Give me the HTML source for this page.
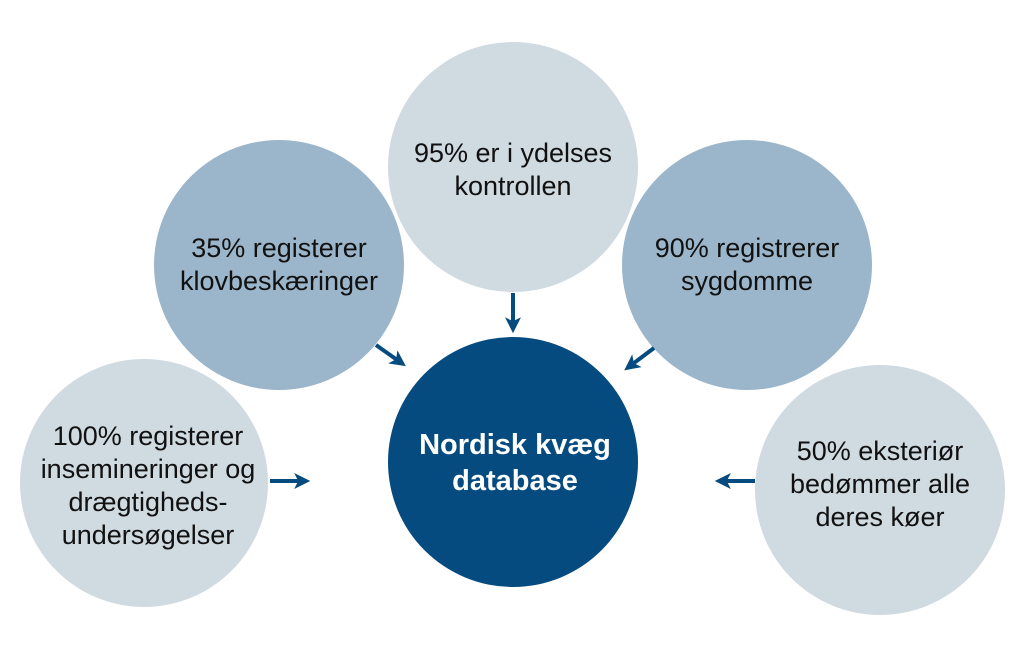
<!DOCTYPE html>
<html><head><style>
html,body{margin:0;padding:0;background:#fff;}
body{width:1024px;height:652px;overflow:hidden;}
text{font-family:"Liberation Sans",Arial,sans-serif;font-size:27px;fill:#111;text-anchor:middle;}
</style></head><body>
<svg width="1024" height="652" viewBox="0 0 1024 652">
<defs><marker id="a" markerWidth="4" markerHeight="4" refX="2.2" refY="2" orient="auto" markerUnits="strokeWidth"><path d="M0,0 L4,2 L0,4 L1,2 Z" fill="#064b80"/></marker></defs>
<circle cx="513" cy="167" r="125" fill="#cfdae1"/>
<circle cx="279" cy="265" r="125" fill="#9bb6ca"/>
<circle cx="747" cy="265" r="125" fill="#9bb6ca"/>
<circle cx="144" cy="483" r="124" fill="#cfdae1"/>
<circle cx="880" cy="490" r="125" fill="#cfdae1"/>
<circle cx="513" cy="462" r="125" fill="#064b80"/>
<g stroke="#064b80" stroke-width="4" fill="none" marker-end="url(#a)">
<line x1="513" y1="293" x2="513" y2="326"/>
<line x1="376" y1="345" x2="400" y2="362"/>
<line x1="654" y1="348" x2="630" y2="366"/>
<line x1="270" y1="481" x2="303" y2="481"/>
<line x1="755" y1="481" x2="722" y2="481"/>
</g>
<text x="513" y="162">95% er i ydelses</text>
<text x="513" y="195">kontrollen</text>
<text x="279" y="257">35% registerer</text>
<text x="279" y="290">klovbeskæringer</text>
<text x="747" y="257">90% registrerer</text>
<text x="747" y="290">sygdomme</text>
<text x="148" y="445">100% registerer</text>
<text x="148" y="478">insemineringer og</text>
<text x="148" y="511">drægtigheds-</text>
<text x="148" y="544">undersøgelser</text>
<text x="880" y="460">50% eksteriør</text>
<text x="880" y="493">bedømmer alle</text>
<text x="880" y="526">deres køer</text>
<text x="515" y="454" style="font-weight:bold;font-size:29px;fill:#fff">Nordisk kvæg</text>
<text x="515" y="490" style="font-weight:bold;font-size:29px;fill:#fff">database</text>
</svg>
</body></html>
